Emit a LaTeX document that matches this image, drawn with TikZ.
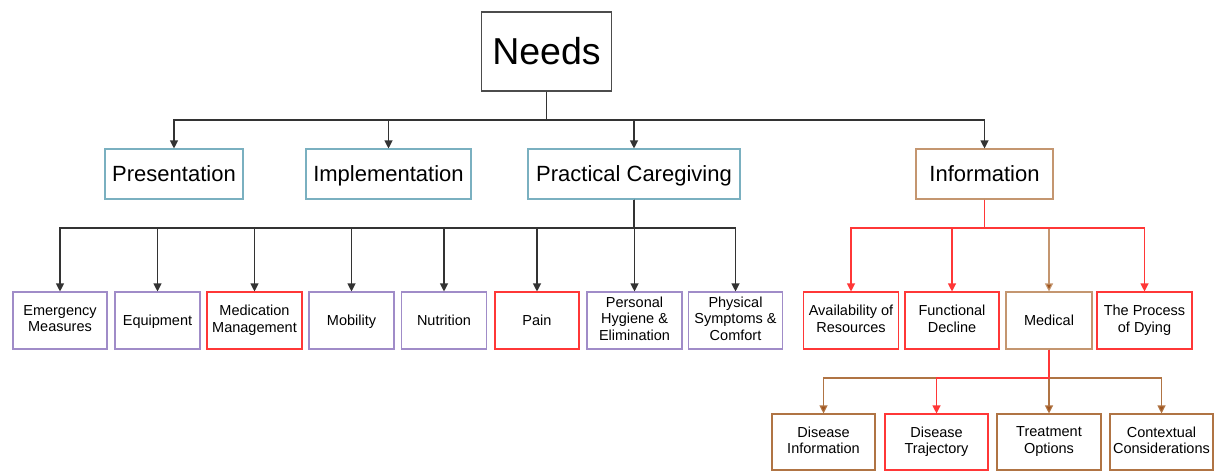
\documentclass[tikz,border=0pt]{standalone}
\usepackage{fontspec}
\setmainfont{Liberation Sans}
\usetikzlibrary{arrows.meta}

\definecolor{topblue}{RGB}{122,176,192}
\definecolor{lilac}{RGB}{160,140,200}
\definecolor{hotred}{RGB}{255,55,55}
\definecolor{tan}{RGB}{196,150,112}
\definecolor{darktan}{RGB}{176,116,68}
\definecolor{tipbrown}{RGB}{160,85,30}

% keeps the capitals of a box centred, with or without descenders
\newcommand{\captop}{\rule{0pt}{0.966em}}
\newcommand{\capbot}{\rule[-0.25em]{0pt}{0pt}}

\begin{document}
\begin{tikzpicture}[x=1pt,y=-1pt]
        \useasboundingbox (0,0) rectangle (1217,471);
        \begin{scope}[every node/.style={draw, line width=1.1pt, align=center, inner sep=1pt, fill=white,
                        font=\fontsize{14.5}{16.5}\selectfont,
                        execute at begin node=\captop, execute at end node=\capbot},
                      top/.style={draw=topblue, minimum height=50pt, font=\fontsize{22}{25}\selectfont},
                      sub/.style={draw=lilac, minimum height=57pt},
                      hot/.style={draw=hotred, minimum height=57pt},
                      brn/.style={draw=tan, minimum height=57pt},
                      leaf/.style={draw=darktan, minimum height=56pt},
                      every path/.style={line width=1.1pt, >={Triangle[length=8pt,width=8pt]}}]
                % root and first level
                \node[draw=black!70, minimum width=130pt, minimum height=79pt, font=\fontsize{37.5}{40}\selectfont] (needs) at (546.5,51.5) {Needs};
                \node[top, minimum width=138pt] (pres) at (174,174) {Presentation};
                \node[top, minimum width=165pt] (impl) at (388.5,174) {Implementation};
                \node[top, minimum width=212pt] (prac) at (634,174) {Practical Caregiving};
                \node[top, draw=tan, minimum width=137pt] (info) at (984.5,174) {Information};

                % practical caregiving
                \node[sub, minimum width=94pt] (emerg) at (60,320.5) {Emergency\\Measures};
                \node[sub, minimum width=85pt] (equip) at (157.5,320.5) {Equipment};
                \node[hot, minimum width=95pt] (medic) at (254.5,320.5) {Medication\\Management};
                \node[sub, minimum width=85pt] (mobil) at (351.5,320.5) {Mobility};
                \node[sub, minimum width=85pt] (nutri) at (444,320.5) {Nutrition};
                \node[hot, minimum width=84pt] (pain) at (537,320.5) {Pain};
                \node[sub, minimum width=95pt] (hyg) at (634.5,320.5) {Personal\\Hygiene \&\\Elimination};
                \node[sub, minimum width=94pt] (phys) at (735.5,320.5) {Physical\\Symptoms \&\\Comfort};

                % information
                \node[hot, minimum width=95pt] (avail) at (851,320.5) {Availability of\\Resources};
                \node[hot, minimum width=94pt] (func) at (952,320.5) {Functional\\Decline};
                \node[brn, minimum width=86pt] (medi) at (1049,320.5) {Medical};
                \node[hot, minimum width=95pt] (dying) at (1144.5,320.5) {The Process\\of Dying};

                % medical
                \node[leaf, minimum width=103pt] (dinfo) at (823.5,442) {Disease\\Information};
                \node[hot, minimum height=56pt, minimum width=103pt] (dtraj) at (936.5,442) {Disease\\Trajectory};
                \node[leaf, minimum width=104pt] (treat) at (1049,442) {Treatment\\Options};
                \node[leaf, minimum width=103pt] (ctx) at (1161.5,442) {Contextual\\Considerations};

                \coordinate (bn) at (546.5,120);
                \coordinate (bp) at (634,228);
                \coordinate (bi) at (984.5,228);
                \coordinate (bm) at (1049,378);

                \foreach \kid in {pres,impl,prac,info}
                        \draw[->, black!80] (needs.south) -- (bn) -| (\kid.north);
                \foreach \kid in {emerg,equip,medic,mobil,nutri,pain,hyg,phys}
                        \draw[->, black!80] (prac.south) -- (bp) -| (\kid.north);

                \draw[->, tan, -{Triangle[length=8pt,width=8pt,fill=tipbrown]}] (info.south) -- (bi) -| (medi.north);
                \foreach \kid in {avail,func,dying}
                        \draw[->, hotred] (info.south) -- (bi) -| (\kid.north);

                \foreach \kid in {dinfo,treat,ctx}
                        \draw[->, darktan, -{Triangle[length=8pt,width=8pt,fill=tipbrown]}] (medi.south) -- (bm) -| (\kid.north);
                \draw[->, hotred] (medi.south) -- (bm) -| (dtraj.north);
        \end{scope}
\end{tikzpicture}
\end{document}
